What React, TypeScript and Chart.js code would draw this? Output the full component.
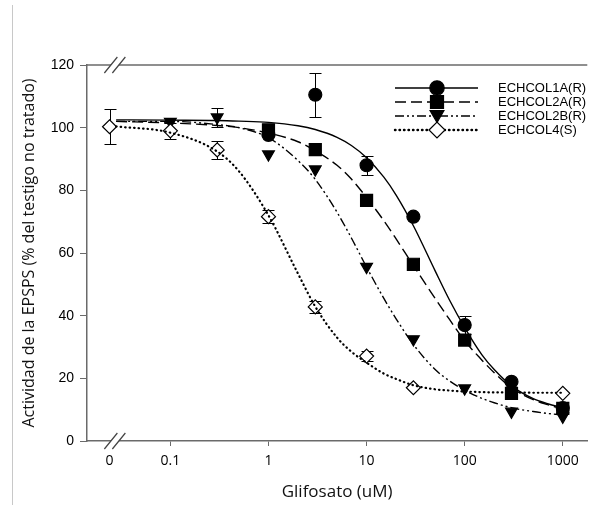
import React, { useEffect, useRef } from 'react';
import { Chart, registerables } from 'chart.js';

Chart.register(...registerables);

// ---- data ----
const ZERO_POS = 0.024; // plotting position of dose 0 on the broken log axis
const BREAK_POS = 0.0275; // position of the axis break marks
const CURVE_START = 0.028; // fitted curves start just right of dose 0
const X_MIN = 0.01413;
const X_MAX = 1778;
const X_TICK_VALUES = [ZERO_POS, 0.1, 1, 10, 100, 1000];
const X_TICK_LABELS = ['0', '0.1', '1', '10', '100', '1000'];
const Y_MIN = 0;
const Y_MAX = 120;
const Y_STEP = 20;

const SERIES_NAMES = ['ECHCOL1A(R)', 'ECHCOL2A(R)', 'ECHCOL2B(R)', 'ECHCOL4(S)'];

const DOSE_1A = [1, 3, 10, 30, 100, 300, 1000];
const ACT_1A = [97.7, 110.5, 88, 71.6, 37, 18.9, 10.5];
const ERR_1A = [0, 7.1, 3, 0, 3, 0, 0];

const DOSE_2A = [1, 3, 10, 30, 100, 300, 1000];
const ACT_2A = [99.3, 93, 76.8, 56.4, 32.2, 15.2, 10.4];
const ERR_2A = [0, 0, 0, 0, 0, 0, 0];

const DOSE_2B = [0.1, 0.3, 1, 3, 10, 30, 100, 300, 1000];
const ACT_2B = [101.9, 103.3, 91.5, 86.7, 55.6, 32.5, 16.8, 9.4, 7.8];
const ERR_2B = [0, 3, 0, 0, 0, 0, 0, 0, 0];

const DOSE_4 = [0, 0.1, 0.3, 1, 3, 10, 30, 1000];
const ACT_4 = [100.3, 99, 92.9, 71.6, 42.8, 27.1, 17, 15.2];
const ERR_4 = [5.5, 2.5, 3, 2, 2, 1.5, 0, 0];

// fitted dose-response curves
const CURVE_X = [CURVE_START, 0.1, 0.3, 0.5, 1, 2, 3, 5, 7, 10, 15, 20, 30, 50, 70, 100, 150, 200, 300, 500, 700, 1000];
const FIT_1A = [102.5, 102.4, 102.3, 102.1, 101.7, 100.6, 99.4, 96.9, 94.3, 90.4, 84.2, 78.5, 68.7, 54.3, 45, 36.2, 27.5, 22.8, 17.6, 13.5, 11.9, 10.6];
const FIT_2A = [102, 101.5, 100.7, 100, 98.3, 95.5, 92.6, 88, 83.6, 77.7, 70.3, 64.5, 56, 45.5, 38.8, 32, 25.8, 21.8, 17, 13.2, 11.6, 10.2];
const FIT_2B = [102, 102, 101, 100, 96.8, 89.5, 83.5, 73, 64.8, 55.5, 45.5, 39, 30.8, 22.8, 19.2, 16.2, 13.6, 12.2, 10.6, 9.4, 8.8, 8.3];
const FIT_4 = [100.4, 98.4, 92.4, 86.1, 72, 53.4, 42.9, 33, 28.5, 25, 21.5, 19.8, 17.8, 16.5, 16.1, 15.8, 15.6, 15.5, 15.5, 15.4, 15.4, 15.4];

// ---- styles ----
const AXIS = '#6a6a6a';
const INK = '#000';
const DASH_1A: number[] = [];
const DASH_2A = [11, 5];
const DASH_2B = [9, 3, 2, 3, 2, 3];
const DASH_4 = [0.5, 4];

type Series = {
  name: string; doses: number[]; vals: number[]; err: number[]; fit: number[];
  dash: number[]; style: string; radius: number; legendRadius: number; rotation: number; fill: string;
  width: number; cap: CanvasLineCap;
};

const SERIES: Series[] = [
  { name: SERIES_NAMES[0], doses: DOSE_1A, vals: ACT_1A, err: ERR_1A, fit: FIT_1A, dash: DASH_1A, style: 'circle', radius: 6.5, legendRadius: 7.2, rotation: 0, fill: INK, width: 1.4, cap: 'butt' },
  { name: SERIES_NAMES[1], doses: DOSE_2A, vals: ACT_2A, err: ERR_2A, fit: FIT_2A, dash: DASH_2A, style: 'rect', radius: 8.5, legendRadius: 9.2, rotation: 0, fill: INK, width: 1.4, cap: 'butt' },
  { name: SERIES_NAMES[2], doses: DOSE_2B, vals: ACT_2B, err: ERR_2B, fit: FIT_2B, dash: DASH_2B, style: 'triangle', radius: 6.8, legendRadius: 8, rotation: 180, fill: INK, width: 1.4, cap: 'butt' },
  { name: SERIES_NAMES[3], doses: DOSE_4, vals: ACT_4, err: ERR_4, fit: FIT_4, dash: DASH_4, style: 'rectRot', radius: 7, legendRadius: 8, rotation: 0, fill: '#fff', width: 2.2, cap: 'round' },
];

const posOf = (d: number) => (d === 0 ? ZERO_POS : d);

function drawMarker(ctx: CanvasRenderingContext2D, style: string, x: number, y: number, r: number, fill: string) {
  ctx.beginPath();
  if (style === 'circle') {
    ctx.arc(x, y, r, 0, Math.PI * 2);
  } else if (style === 'rect') {
    const s = Math.SQRT1_2 * r;
    ctx.rect(x - s, y - s, 2 * s, 2 * s);
  } else if (style === 'triangle') {
    ctx.moveTo(x, y + r);
    ctx.lineTo(x - r * 0.866, y - r / 2);
    ctx.lineTo(x + r * 0.866, y - r / 2);
    ctx.closePath();
  } else {
    ctx.moveTo(x - r, y);
    ctx.lineTo(x, y - r);
    ctx.lineTo(x + r, y);
    ctx.lineTo(x, y + r);
    ctx.closePath();
  }
  ctx.fillStyle = fill;
  ctx.fill();
  ctx.lineWidth = 1.2;
  ctx.strokeStyle = INK;
  ctx.setLineDash([]);
  ctx.stroke();
}

const decorPlugin = {
  id: 'decor',
  beforeDatasetsDraw(chart: any) {
    const { ctx, scales } = chart;
    const x = scales.x, y = scales.y;
    ctx.save();
    ctx.strokeStyle = INK;
    ctx.lineWidth = 1;
    ctx.setLineDash([]);
    SERIES.forEach((s) => {
      s.doses.forEach((d, i) => {
        const e = s.err[i];
        if (!e) return;
        const px = Math.round(x.getPixelForValue(posOf(d))) + 0.5;
        const top = Math.round(y.getPixelForValue(s.vals[i] + e)) + 0.5;
        const bot = Math.round(y.getPixelForValue(s.vals[i] - e)) + 0.5;
        ctx.beginPath();
        ctx.moveTo(px, top); ctx.lineTo(px, bot);
        ctx.moveTo(px - 6, top); ctx.lineTo(px + 6, top);
        ctx.moveTo(px - 6, bot); ctx.lineTo(px + 6, bot);
        ctx.stroke();
      });
    });
    ctx.restore();
  },
  afterDraw(chart: any) {
    const { ctx, chartArea, scales } = chart;
    const x = scales.x;
    ctx.save();
    // page frame line at the left
    ctx.strokeStyle = '#c8c8c8';
    ctx.lineWidth = 1;
    ctx.beginPath();
    ctx.moveTo(12.5, 5);
    ctx.lineTo(12.5, 505);
    ctx.stroke();

    // top frame line
    ctx.strokeStyle = AXIS;
    ctx.lineWidth = 1.5;
    ctx.beginPath();
    ctx.moveTo(chartArea.left, chartArea.top);
    ctx.lineTo(chartArea.right, chartArea.top);
    ctx.stroke();

    // axis break marks on top and bottom
    const c = x.getPixelForValue(BREAK_POS);
    [chartArea.top, chartArea.bottom].forEach((yy: number) => {
      ctx.fillStyle = '#fff';
      ctx.beginPath();
      ctx.moveTo(c - 11, yy + 8);
      ctx.lineTo(c + 2, yy - 8);
      ctx.lineTo(c + 10, yy - 8);
      ctx.lineTo(c - 3, yy + 8);
      ctx.closePath();
      ctx.fill();
      ctx.strokeStyle = '#444';
      ctx.lineWidth = 1.2;
      ctx.beginPath();
      ctx.moveTo(c - 11, yy + 8); ctx.lineTo(c + 2, yy - 8);
      ctx.moveTo(c - 3, yy + 8); ctx.lineTo(c + 10, yy - 8);
      ctx.stroke();
    });

    // legend
    const rowY = [88, 102, 116, 130];
    const lineX0 = 395, lineX1 = 478, markX = 437, textX = 498;
    ctx.font = '13px "Liberation Sans", Arial, sans-serif';
    ctx.textBaseline = 'middle';
    ctx.textAlign = 'left';
    SERIES.forEach((s, i) => {
      const yy = rowY[i];
      ctx.strokeStyle = INK;
      ctx.lineWidth = s.width + 0.2;
      ctx.setLineDash(s.dash);
      ctx.lineCap = s.cap;
      ctx.beginPath();
      ctx.moveTo(lineX0, yy);
      ctx.lineTo(lineX1, yy);
      ctx.stroke();
      ctx.lineCap = 'butt';
      ctx.setLineDash([]);
      drawMarker(ctx, s.style, markX, s.style === 'triangle' ? yy - 1.5 : yy, s.legendRadius, s.fill);
      ctx.fillStyle = INK;
      ctx.fillText(s.name, textX, yy + 0.5);
    });
    ctx.restore();
  },
};

export default function App() {
  const canvasRef = useRef<HTMLCanvasElement | null>(null);

  useEffect(() => {
    if (!canvasRef.current) return;
    const curveSets = SERIES.map((s) => ({
      label: 'fit ' + s.name,
      data: CURVE_X.map((cx, k) => ({ x: cx, y: s.fit[k] })),
      showLine: true,
      pointRadius: 0,
      borderColor: INK,
      borderWidth: s.width,
      borderDash: s.dash,
      borderCapStyle: s.cap,
      cubicInterpolationMode: 'monotone',
      fill: false,
      order: 0,
    }));
    const pointSets = SERIES.map((s, i) => ({
      label: s.name,
      data: s.doses.map((d, k) => ({ x: posOf(d), y: s.vals[k] })),
      showLine: false,
      pointStyle: s.style,
      pointRadius: s.radius,
      pointRotation: s.rotation,
      backgroundColor: s.fill,
      borderColor: INK,
      borderWidth: 1.2,
      order: 4 - i,
    }));

    const chart = new Chart(canvasRef.current, {
      type: 'scatter',
      data: { datasets: [...curveSets, ...pointSets] as any },
      options: {
        animation: false,
        responsive: true,
        maintainAspectRatio: false,
        devicePixelRatio: 1,
        layout: { padding: { top: 65, right: 0, bottom: 0, left: 0 } },
        plugins: { legend: { display: false }, tooltip: { enabled: false } },
        scales: {
          x: {
            type: 'logarithmic',
            min: X_MIN,
            max: X_MAX,
            afterBuildTicks: (scale: any) => {
              scale.ticks = X_TICK_VALUES.map((v) => ({ value: v }));
            },
            afterFit: (scale: any) => { scale.height = 64; },
            ticks: {
              autoSkip: false,
              maxRotation: 0,
              padding: 7,
              color: INK,
              font: { family: '"Open Sans", sans-serif', size: 14 },
              callback: (_v: any, idx: number) => X_TICK_LABELS[idx],
            },
            grid: {
              drawOnChartArea: false,
              drawTicks: true,
              tickLength: 5,
              lineWidth: 1,
              color: (ctx: any) => (ctx.index === 0 ? 'rgba(0,0,0,0)' : AXIS),
            },
            border: { display: true, color: AXIS, width: 1.5 },
            title: {
              display: true,
              text: 'Glifosato (uM)',
              color: '#111',
              font: { family: '"Open Sans", sans-serif', size: 17 },
              padding: { top: 0, bottom: 3 },
            },
          },
          y: {
            min: Y_MIN,
            max: Y_MAX,
            afterFit: (scale: any) => { scale.width = 87; },
            ticks: {
              stepSize: Y_STEP,
              padding: 6,
              color: INK,
              font: { family: '"Liberation Sans", Arial, sans-serif', size: 14 },
            },
            grid: {
              drawOnChartArea: false,
              drawTicks: true,
              tickLength: 7,
              lineWidth: 1,
              color: AXIS,
            },
            border: { display: true, color: AXIS, width: 1.5 },
            title: {
              display: true,
              text: 'Actividad de la EPSPS (% del testigo no tratado)',
              color: '#111',
              font: { family: '"Open Sans", sans-serif', size: 16 },
              padding: { top: 20, bottom: 0 },
            },
          },
        },
      } as any,
      plugins: [decorPlugin],
    });
    return () => chart.destroy();
  }, []);

  return (
    <div style={{ position: 'absolute', left: 0, top: 0, width: 597, height: 505, background: '#fff' }}>
      <canvas ref={canvasRef} />
    </div>
  );
}
